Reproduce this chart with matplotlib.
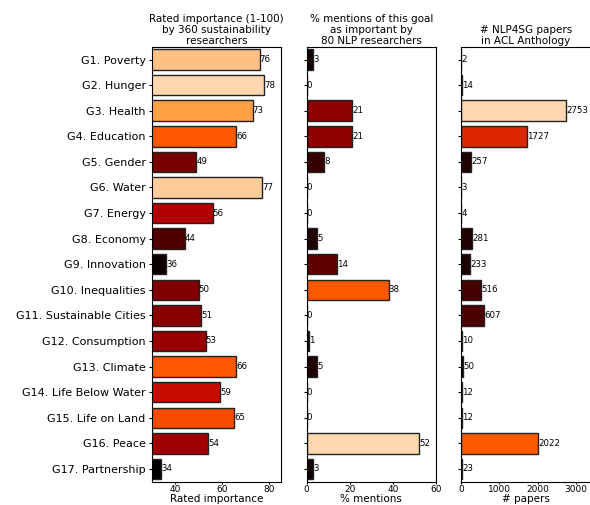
import numpy as np
import matplotlib
matplotlib.use('Agg')
import matplotlib.pyplot as plt
from matplotlib.colors import Normalize

goals = ['G1. Poverty', 'G2. Hunger', 'G3. Health', 'G4. Education', 'G5. Gender',
         'G6. Water', 'G7. Energy', 'G8. Economy', 'G9. Innovation', 'G10. Inequalities',
         'G11. Sustainable Cities', 'G12. Consumption', 'G13. Climate',
         'G14. Life Below Water', 'G15. Life on Land', 'G16. Peace', 'G17. Partnership']
rated = [76, 78, 73, 66, 49, 77, 56, 44, 36, 50, 51, 53, 66, 59, 65, 54, 34]
mentions = [3, 0, 21, 21, 8, 0, 0, 5, 14, 38, 0, 1, 5, 0, 0, 52, 3]
papers = [2, 14, 2753, 1727, 257, 3, 4, 281, 233, 516, 607, 10, 50, 12, 12, 2022, 23]

titles = ['Rated importance (1-100)\nby 360 sustainability\nresearchers',
          '% mentions of this goal\nas important by\n80 NLP researchers',
          '# NLP4SG papers\nin ACL Anthology']
xlabels = ['Rated importance', '% mentions', '# papers']
xlims = [(30, 85.3), (0, 60), (0, 3400)]
xticks = [[40, 60, 80], [0, 20, 40, 60], [0, 1000, 2000, 3000]]

fig = plt.figure(figsize=(5.9, 5.05), dpi=100)
lefts = [0.2576, 0.5198, 0.7819]
cmap = plt.get_cmap('gist_heat')
y = np.arange(len(goals))

for i, vals in enumerate([rated, mentions, papers]):
    ax = fig.add_axes([lefts[i], 0.0461, 0.2195, 0.8614])
    vals = np.array(vals)
    # max value maps to a light peach, not white
    norm = Normalize(vmin=vals.min(), vmax=vals.min() + (vals.max() - vals.min()) / 0.92)
    colors = cmap(norm(vals))
    bars = ax.barh(y, vals, height=0.8, color=colors, edgecolor='#222222', linewidth=1)
    ax.bar_label(bars, labels=[str(v) for v in vals], padding=0, fontsize=6.2)
    ax.set_ylim(16.5, -0.5)
    ax.set_xlim(*xlims[i])
    ax.set_xticks(xticks[i])
    ax.set_yticks(y)
    if i == 0:
        ax.set_yticklabels(goals, fontsize=8)
    else:
        ax.set_yticklabels([])
    ax.tick_params(axis='x', labelsize=6.5, length=1.5, pad=1)
    ax.tick_params(axis='y', length=2.5, pad=2)
    ax.set_title(titles[i], fontsize=7.5, linespacing=1.12, pad=2)
    ax.set_xlabel(xlabels[i], fontsize=7.5, labelpad=0)

plt.savefig('out.png', dpi=100)
